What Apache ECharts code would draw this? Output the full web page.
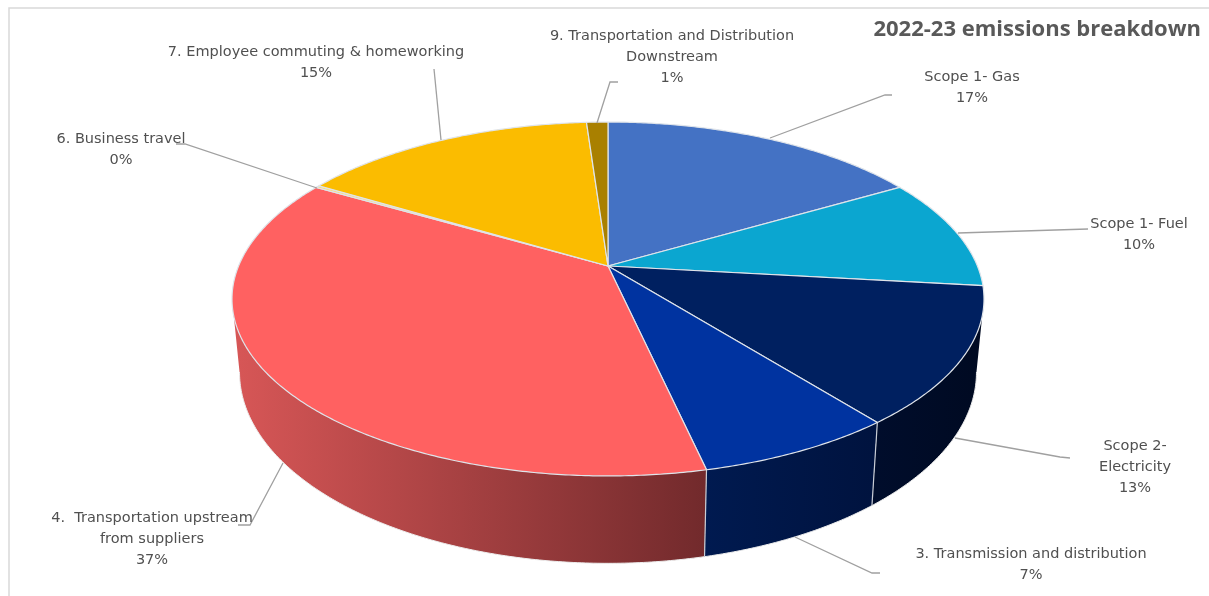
<!DOCTYPE html>
<html>
<head>
<meta charset="utf-8">
<style>
    html, body { margin: 0; padding: 0; background: #fff; }
    #chart { width: 1209px; height: 596px; }
</style>
<script src="https://cdn.jsdelivr.net/npm/echarts@6/dist/echarts.min.js"></script>
</head>
<body>
<div id="chart"></div>
<script>
// 数据
var categories = [
    'Scope 1- Gas',
    'Scope 1- Fuel',
    'Scope 2-\nElectricity',
    '3. Transmission and distribution',
    '4.  Transportation upstream\nfrom suppliers',
    '6. Business travel',
    '7. Employee commuting & homeworking',
    '9. Transportation and Distribution\nDownstream'
];
var values = [16.6, 10.2, 12.5, 7.2, 36.9, 0.2, 15.3, 1.1];

// 颜色
var topColors = ['#4472C4', '#0BA6D0', '#002060', '#0033A0', '#FF6161', '#FFD966', '#FBBC00', '#A98000'];
var wallLeft = ['#2F5597', '#077A9A', '#000D2C', '#001A50', '#D65656', '#C09000', '#C09000', '#7A5C00'];
var wallRight = ['#2F5597', '#077A9A', '#000A22', '#00133F', '#722A2C', '#C09000', '#C09000', '#7A5C00'];

// 标签和引导线位置
var labelPos = [[972, 67], [1139, 214], [1135, 436], [1031, 544], [152, 508], [121, 129], [316, 42], [672, 26]];
var leaders = [
    [[770, 138], [885, 95], [892, 95]],
    [[958, 233], [1088, 229]],
    [[955, 438], [1060, 457], [1070, 458]],
    [[795, 537], [872, 573], [880, 573]],
    [[283, 463], [250, 525], [238, 525]],
    [[317, 188], [185, 144], [176, 144]],
    [[441, 140], [434, 69]],
    [[597, 123], [610, 82], [618, 82]]
];

// 3D圆盘的透视参数
var apexX = 608, apexY = 266;
var scaleX = 369.4, scaleY = 170.8, persp = 0.1864;
var lowerY = 336.6, lowerScaleX = 0.98, lowerScaleY = 1.08;
// 侧面可见的角度范围（左右轮廓切点）
var sideStart = 100.7, sideEnd = 259.3;

function upper(deg) {
    var a = deg * Math.PI / 180;
    var w = 1 + persp * Math.cos(a);
    return [apexX + scaleX * Math.sin(a) / w, apexY - scaleY * Math.cos(a) / w];
}
function lower(deg) {
    var p = upper(deg);
    return [apexX + (p[0] - apexX) * lowerScaleX, lowerY + (p[1] - apexY) * lowerScaleY];
}

// 累计角度
var rows = [];
var total = values.reduce(function (s, v) { return s + v; }, 0);
var sum = 0;
values.forEach(function (v, i) {
    rows.push([sum / total * 360, (sum + v) / total * 360, v, i]);
    sum += v;
});

function renderWall(params, api) {
    var start = Math.max(api.value(0), sideStart), end = Math.min(api.value(1), sideEnd), idx = api.value(3);
    if (end <= start) {
        return null;
    }
    // 底边弧线
    var edge = [];
    for (var d = start; d < end; d += 0.5) { edge.push(lower(d)); }
    edge.push(lower(end));
    var minX = Math.min.apply(null, edge.map(function (p) { return p[0]; }));
    var maxX = Math.max.apply(null, edge.map(function (p) { return p[0]; }));
    // 顶面会盖住多余部分，所以多边形收到圆心
    var pts = edge.concat([upper(end), [apexX, apexY], upper(start)]);
    var kids = [
        {
            type: 'polygon',
            shape: { points: pts },
            style: {
                fill: new echarts.graphic.LinearGradient(minX, 0, maxX, 0, [
                    { offset: 0, color: wallLeft[idx] },
                    { offset: 1, color: wallRight[idx] }
                ], true)
            }
        },
        {
            type: 'polyline',
            shape: { points: edge },
            style: { fill: null, stroke: '#ececec', lineWidth: 1 }
        }
    ];
    // 侧面分界线
    if (api.value(0) > sideStart) {
        kids.push({
            type: 'line',
            shape: { x1: upper(start)[0], y1: upper(start)[1], x2: lower(start)[0], y2: lower(start)[1] },
            style: { stroke: '#c9ced6', lineWidth: 1.2 }
        });
    }
    return { type: 'group', children: kids };
}

function renderTop(params, api) {
    var start = api.value(0), end = api.value(1), idx = api.value(3);
    var pts = [[apexX, apexY]];
    for (var d = start; d < end; d += 0.5) { pts.push(upper(d)); }
    pts.push(upper(end));
    return {
        type: 'polygon',
        shape: { points: pts },
        style: { fill: topColors[idx], stroke: '#dfe4ea', lineWidth: 1.2, lineJoin: 'round' }
    };
}

function renderLabel(params, api) {
    var idx = api.value(3), v = api.value(2);
    return {
        type: 'group',
        children: [
            {
                type: 'polyline',
                shape: { points: leaders[idx] },
                style: { fill: null, stroke: '#a0a0a0', lineWidth: 1.3 }
            },
            {
                type: 'text',
                style: {
                    x: labelPos[idx][0],
                    y: labelPos[idx][1],
                    text: categories[idx] + '\n' + Math.round(v) + '%',
                    fill: '#505050',
                    font: '14.5px "DejaVu Sans"',
                    lineHeight: 21,
                    align: 'center',
                    verticalAlign: 'top'
                }
            }
        ]
    };
}

var myChart = echarts.init(document.getElementById('chart'));
var option = {
    animation: false,
    title: {
        text: '2022-23 emissions breakdown',
        right: 3,
        top: 14,
        textStyle: { color: '#595959', fontFamily: 'Open Sans', fontWeight: 'bold', fontSize: 22 }
    },
    graphic: [{
        type: 'rect',
        silent: true,
        z: -1,
        shape: { x: 9, y: 8, width: 1400, height: 800 },
        style: { fill: null, stroke: '#d9d9d9', lineWidth: 1.5 }
    }],
    series: [
        { type: 'custom', coordinateSystem: 'none', silent: true, z: 1, renderItem: renderWall, data: rows },
        { type: 'custom', coordinateSystem: 'none', silent: true, z: 2, renderItem: renderTop, data: rows },
        { type: 'custom', coordinateSystem: 'none', silent: true, z: 3, renderItem: renderLabel, data: rows }
    ]
};
myChart.setOption(option);
</script>
</body>
</html>
